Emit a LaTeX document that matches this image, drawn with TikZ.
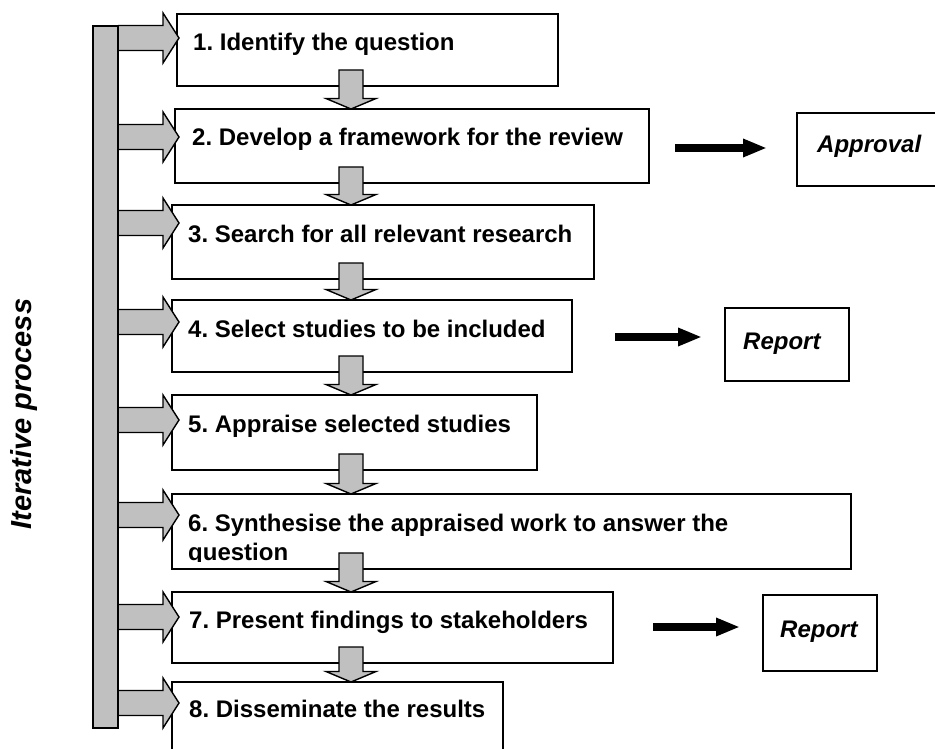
\documentclass[tikz,border=0pt]{standalone}
\usepackage{fontspec}
\setmainfont{Liberation Sans}
\usetikzlibrary{arrows.meta,calc}
\definecolor{arrowgray}{RGB}{192,192,192}
\frenchspacing
\newcommand\dnarrow[2]{%
  \draw[garrow] let \p1=(#1.south -| cx), \p2=(#2.north -| cx) in
    (\x1-12pt,\y1+16pt) -- (\x1+12pt,\y1+16pt) -- (\x1+12pt,\y2+10.5pt) --
    (\x1+25pt,\y2+10.5pt) -- (\x2,\y2) -- (\x1-25pt,\y2+10.5pt) --
    (\x1-12pt,\y2+10.5pt) -- cycle;}
\newcommand\sidearrow[2]{%
  \filldraw[garrow] let \p1=(bar.east), \p2=(tipx), \p3=(0,#2) in
    (\x1,\y3+12.5pt) -- (\x2-16pt,\y3+12.5pt) -- (\x2-16pt,\y3+25pt) --
    (\x2,\y3) -- (\x2-16pt,\y3-25pt) -- (\x2-16pt,\y3-12.5pt) -- (\x1,\y3-12.5pt);}
\begin{document}
\frenchspacing
\begin{tikzpicture}[x=1pt,y=-1pt,
  box/.style={draw=black,line width=1.6pt,fill=white,inner sep=0pt,outer sep=0pt,anchor=north west},
  lbl/.style={font=\bfseries\fontsize{24}{29}\selectfont,inner sep=0pt,anchor=base west},
  ilbl/.style={font=\bfseries\itshape\fontsize{24}{29}\selectfont,inner sep=0pt,anchor=base west},
  garrow/.style={draw=black,line width=1.4pt,fill=arrowgray,line join=miter},
  karrow/.style={line width=8pt,-{Triangle[length=24pt,width=17pt]}}
]
\useasboundingbox (0,0) rectangle (935,749);
\coordinate (cx) at (351,0);
\coordinate (tipx) at (179,0);

% step boxes
\node[box,minimum width=381pt,minimum height=72pt] (b1) at (177,14) {};
\node[box,minimum width=474pt,minimum height=74pt] (b2) at (175,109) {};
\node[box,minimum width=422pt,minimum height=74pt] (b3) at (172,205) {};
\node[box,minimum width=400pt,minimum height=72pt] (b4) at (172,300) {};
\node[box,minimum width=365pt,minimum height=75pt] (b5) at (172,395) {};
\node[box,minimum width=679pt,minimum height=75pt] (b6) at (172,494) {};
\node[box,minimum width=441pt,minimum height=71pt] (b7) at (172,592) {};
\node[box,minimum width=331pt,minimum height=80pt] (b8) at (172,682) {};

% output boxes
\node[box,minimum width=160pt,minimum height=73pt] (ap) at (797,113) {};
\node[box,minimum width=124pt,minimum height=73pt] (r1) at (725,308) {};
\node[box,minimum width=114pt,minimum height=76pt] (r2) at (763,595) {};

% labels
\node[lbl] (t1) at ($(b1.north west)+(16,37)$) {1. Identify the question};
\node[lbl] (t2) at ($(b2.north west)+(17,37)$) {2. Develop a framework for the review};
\node[lbl] (t3) at ($(b3.north west)+(16,37)$) {3. Search for all relevant research};
\node[lbl] (t4) at ($(b4.north west)+(16,37)$) {4. Select studies to be included};
\node[lbl] (t5) at ($(b5.north west)+(16,37)$) {5. Appraise selected studies};
\begin{scope}
  \clip (172,494) rectangle (851,561);
  \node[lbl] (t6) at ($(b6.north west)+(16,37)$) {6. Synthesise the appraised work to answer the};
  \node[lbl] (t6b) at ($(b6.north west)+(16,66)$) {question};
\end{scope}
\node[lbl] (t7) at ($(b7.north west)+(17,36)$) {7. Present findings to stakeholders};
\node[lbl] (t8) at ($(b8.north west)+(17,35)$) {8. Disseminate the results};
\node[ilbl] (tap) at ($(ap.north west)+(20,40)$) {Approval};
\node[ilbl] (tr1) at ($(r1.north west)+(18,41)$) {Report};
\node[ilbl] (tr2) at ($(r2.north west)+(17,42)$) {Report};

% down arrows
\dnarrow{b1}{b2}
\dnarrow{b2}{b3}
\dnarrow{b3}{b4}
\dnarrow{b4}{b5}
\dnarrow{b5}{b6}
\dnarrow{b6}{b7}
\dnarrow{b7}{b8}

% iterative bar and side arrows
\node[draw=black,line width=1.4pt,fill=arrowgray,inner sep=0pt,outer sep=0pt,
      minimum width=25pt,minimum height=702pt,anchor=north west] (bar) at (93,26) {};
\sidearrow{b1}{38}
\sidearrow{b2}{137}
\sidearrow{b3}{223}
\sidearrow{b4}{322}
\sidearrow{b5}{420}
\sidearrow{b6}{515}
\sidearrow{b7}{617}
\sidearrow{b8}{703}
\draw[draw=black,line width=1.4pt] (bar.north east) -- (bar.south east);

\node[font=\bfseries\itshape\fontsize{29}{34}\selectfont,rotate=90,inner sep=0pt] (iter) at (24,414) {Iterative process};

% black arrows
\coordinate (k1s) at (675,148); \coordinate (k1e) at (767,148);
\coordinate (k2s) at (615,337); \coordinate (k2e) at (702,337);
\coordinate (k3s) at (653,627); \coordinate (k3e) at (740,627);
\draw[karrow] (k1s) -- (k1e);
\draw[karrow] (k2s) -- (k2e);
\draw[karrow] (k3s) -- (k3e);
\end{tikzpicture}
\end{document}
